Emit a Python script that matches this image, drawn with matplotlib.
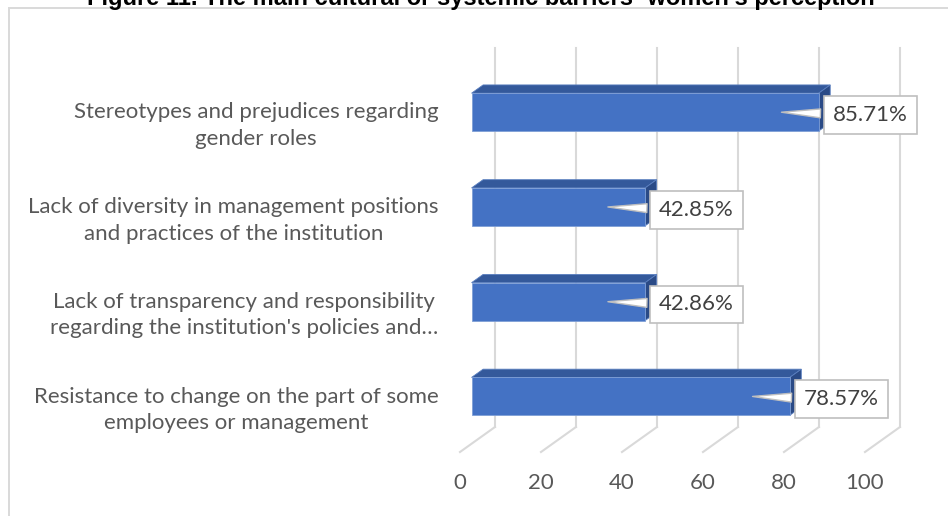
import numpy as np
import matplotlib
matplotlib.use("Agg")
import matplotlib.pyplot as plt
from matplotlib.patches import Polygon, Rectangle

# categories, top to bottom
categories = [
    "Stereotypes and prejudices regarding\ngender roles",
    "Lack of diversity in management positions\nand practices of the institution",
    "Lack of transparency and responsibility\nregarding the institution's policies and\u2026",
    "Resistance to change on the part of some\nemployees or management",
]
values = [85.71, 42.85, 42.86, 78.57]
value_labels = ["85.71%", "42.85%", "42.86%", "78.57%"]
x_ticks = [0, 20, 40, 60, 80, 100]

title = "Figure 11. The main cultural or systemic barriers- women's perception"

W, H = 948, 516
fig = plt.figure(figsize=(W / 100, H / 100), dpi=100)

# chart frame (runs off the right and bottom edges)
fig.patches.append(Rectangle((9 / W, -0.05), 1.0, 1 - 8 / H + 0.05,
                             transform=fig.transFigure, fill=False,
                             ec="#d9d9d9", lw=1.4))
fig.text(481 / W, 1 - 5 / H, title, ha="center", va="baseline",
         fontsize=17, fontweight="bold", family="Liberation Sans",
         color="black")

# front plane of the 3-D box
ax = fig.add_axes([460 / W, (H - 452) / H, 405 / W, 379 / H])
ax.set_xlim(0, 100)
ax.set_ylim(len(categories) - 0.5, -0.5)
for s in ax.spines.values():
    s.set_visible(False)
ax.patch.set_visible(False)

# oblique depth offset (in data units)
DX = 35 / 405 * 100
DY = 25 / 379 * len(categories)

def proj(v, c, d):
    return (v + d * DX, c - d * DY)

grid_c = "#d9d9d9"
y_top, y_bot = -0.5, len(categories) - 0.5
for v in x_ticks:
    # back wall
    p0, p1 = proj(v, y_top, 1), proj(v, y_bot, 1)
    ax.plot([p0[0], p1[0]], [p0[1], p1[1]], color=grid_c, lw=1.5,
            clip_on=False, zorder=1)
    # floor
    p2 = proj(v, y_bot, 0)
    ax.plot([p2[0], p1[0]], [p2[1], p1[1]], color=grid_c, lw=1.5,
            clip_on=False, zorder=1)

d1, d2 = 0.33, 0.66
half = 0.2
front_c, top_c, side_c = "#4472c4", "#34599b", "#2a4a86"
font = "Lato"
px_per_unit = 405 / 100

for i, (val, lab) in enumerate(zip(values, value_labels)):
    t, b = i - half, i + half
    front = [proj(0, t, d1), proj(val, t, d1), proj(val, b, d1), proj(0, b, d1)]
    top = [proj(0, t, d1), proj(val, t, d1), proj(val, t, d2), proj(0, t, d2)]
    side = [proj(val, t, d1), proj(val, b, d1), proj(val, b, d2), proj(val, t, d2)]
    ax.add_patch(Polygon(top, closed=True, fc=top_c, ec="#5a7fc0", lw=0.6,
                         zorder=3, clip_on=False))
    ax.add_patch(Polygon(side, closed=True, fc=side_c, ec="#5a7fc0", lw=0.6,
                         zorder=3, clip_on=False))
    ax.add_patch(Polygon(front, closed=True, fc=front_c, ec="#7f9fd6", lw=0.6,
                         zorder=4, clip_on=False))

    # callout label
    tip = proj(val - 40 / px_per_unit, i, d1)
    ax.annotate(lab, xy=tip, xytext=(91.5 * 0.72, -2), textcoords="offset points",
                ha="center", va="center", fontsize=16, family=font,
                color="#404040", zorder=6, annotation_clip=False,
                bbox=dict(boxstyle="square,pad=0.4", fc="white",
                          ec="#bfbfbf", lw=1.2),
                arrowprops=dict(arrowstyle="wedge,tail_width=0.4,shrink_factor=0.5",
                                fc="white", ec="#bfbfbf", lw=1.0))

ax.set_yticks(range(len(categories)))
ax.set_yticklabels(categories, multialignment="center", fontsize=16,
                   family=font, color="#595959", linespacing=1.4)
ax.set_xticks(x_ticks)
ax.set_xticklabels([str(v) for v in x_ticks], fontsize=16, family=font,
                   color="#595959")
ax.tick_params(axis="y", length=0, pad=15.5)
ax.tick_params(axis="x", length=0, pad=15)

fig.savefig("out.png", dpi=100)
